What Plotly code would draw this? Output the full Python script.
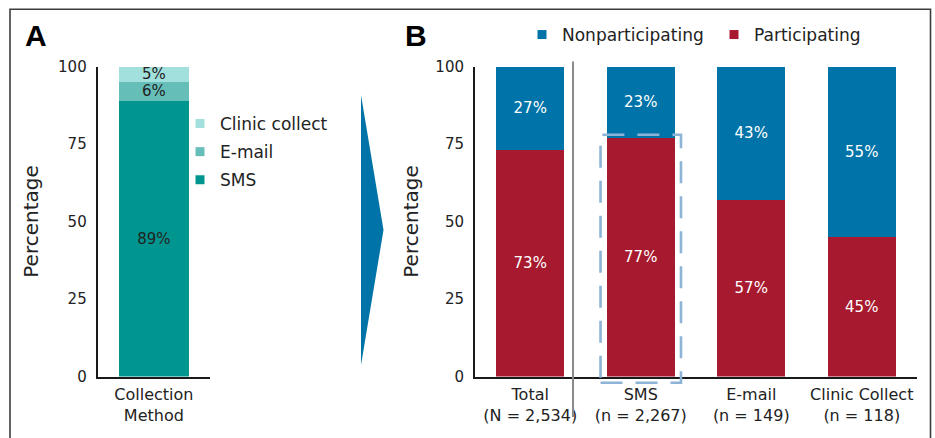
import plotly.graph_objects as go

# ---------------- data ----------------
# Panel A: collection method share
a_category = ["Collection<br>Method"]
a_methods = ["SMS", "E-mail", "Clinic collect"]
a_values = [89, 6, 5]

# Panel B: participation by collection method
b_categories = ["Total<br>(N = 2,534)", "SMS<br>(n = 2,267)",
                "E-mail<br>(n = 149)", "Clinic Collect<br>(n = 118)"]
b_participating = [73, 77, 57, 45]
b_nonparticipating = [27, 23, 43, 55]

y_ticks = [0, 25, 50, 75, 100]

# ---------------- styles ----------------
W, H = 935, 438
FONT = "DejaVu Sans"
TXT = "#222222"
a_colors = {"SMS": "#00968F", "E-mail": "#66BEB9", "Clinic collect": "#A2E0DD"}
C_PART = "#A6192E"
C_NON = "#0074A8"
HILITE = "SMS<br>(n = 2,267)"


def px_x(x):
    return x / W


def px_y(y):
    return 1 - y / H


y_dom = [px_y(376.5), px_y(66.5)]

fig = go.Figure()

# Panel A bars
for m, v in zip(a_methods, a_values):
    fig.add_trace(go.Bar(
        x=a_category, y=[v], name=m, marker=dict(color=a_colors[m], line=dict(width=0)),
        text=[f"{v}%"], textposition="inside", insidetextanchor="middle",
        textangle=0, constraintext="none",
        textfont=dict(color=TXT, size=15, family=FONT),
        width=0.62, showlegend=False, hoverinfo="skip",
        xaxis="x", yaxis="y"))

# Panel A legend (square markers)
for m in reversed(a_methods):
    fig.add_trace(go.Scatter(
        x=[None], y=[None], mode="markers", name=m, legendgroup=m,
        marker=dict(symbol="square", size=9, color=a_colors[m]),
        legend="legend", xaxis="x", yaxis="y"))

# Panel B bars
fig.add_trace(go.Bar(
    x=b_categories, y=b_participating, name="Participating",
    marker=dict(color=C_PART, line=dict(width=0)),
    text=[f"{v}%" for v in b_participating], textposition="inside",
    insidetextanchor="middle", textangle=0, constraintext="none",
    textfont=dict(color="white", size=15, family=FONT),
    width=0.615, showlegend=False, hoverinfo="skip", xaxis="x2", yaxis="y2"))
fig.add_trace(go.Bar(
    x=b_categories, y=b_nonparticipating, name="Nonparticipating",
    marker=dict(color=C_NON, line=dict(width=0)),
    text=[f"{v}%" for v in b_nonparticipating], textposition="inside",
    insidetextanchor="middle", textangle=0, constraintext="none",
    textfont=dict(color="white", size=15, family=FONT),
    width=0.615, showlegend=False, hoverinfo="skip", xaxis="x2", yaxis="y2"))

# Panel B legend
for name, col in [("Nonparticipating", C_NON), ("Participating", C_PART)]:
    fig.add_trace(go.Scatter(
        x=[None], y=[None], mode="markers", name=name,
        marker=dict(symbol="square", size=9, color=col),
        legend="legend2", xaxis="x2", yaxis="y2"))

axis_common = dict(showline=True, linecolor="#1a1a1a", linewidth=2, ticks="",
                   showgrid=False, zeroline=False, automargin=False,
                   tickfont=dict(size=16, color=TXT, family=FONT), fixedrange=True)
yaxis_common = dict(axis_common, range=[0, 100], tickvals=y_ticks,
                    tickfont=dict(size=15, color=TXT, family=FONT),
                    ticklabelstandoff=6, domain=y_dom)

# highlight box around SMS bar, computed from the category index and value
n_b = len(b_categories)
i_sms = b_categories.index(HILITE)
cx = (i_sms + 0.5) / n_b
half = 0.364 / n_b
box_top = (b_participating[i_sms] + 1) / 100.0

# separator between Total and individual methods
sep_x = (0.387 + 0.5) / n_b

shapes = [
    # outer frame
    dict(type="rect", xref="paper", yref="paper", x0=px_x(10), x1=px_x(930.5),
         y0=-0.05, y1=px_y(9.3), line=dict(color="#3c3c3c", width=1.6),
         fillcolor="rgba(0,0,0,0)", layer="below"),
    # arrow triangle
    dict(type="path", xref="paper", yref="paper",
         path=f"M {px_x(361)},{px_y(95)} L {px_x(383.5)},{px_y(230)} L {px_x(361)},{px_y(365)} Z",
         fillcolor=C_NON, line=dict(width=0)),
    # separator
    dict(type="line", xref="x2 domain", yref="y2 domain", x0=sep_x, x1=sep_x,
         y0=-0.131, y1=1.016, line=dict(color="#8a8a8a", width=2)),
    # dashed highlight
    dict(type="rect", xref="x2 domain", yref="y2 domain",
         x0=cx - half, x1=cx + half, y0=-0.02, y1=box_top,
         line=dict(color="#8DB3D6", width=2.6, dash="22px,13px"),
         fillcolor="rgba(0,0,0,0)"),
]

annotations = [
    dict(text="<b>A</b>", x=px_x(36), y=px_y(35), xref="paper", yref="paper",
         showarrow=False, xanchor="center", yanchor="middle",
         font=dict(size=30, color="#000", family="Liberation Sans")),
    dict(text="<b>B</b>", x=px_x(416), y=px_y(35), xref="paper", yref="paper",
         showarrow=False, xanchor="center", yanchor="middle",
         font=dict(size=30, color="#000", family="Liberation Sans")),
]

fig.update_layout(
    width=W, height=H,
    margin=dict(l=0, r=0, t=0, b=0),
    paper_bgcolor="white", plot_bgcolor="white",
    font=dict(family=FONT, color=TXT),
    barmode="stack",
    xaxis=dict(axis_common, domain=[px_x(97.7), px_x(210)], range=[-0.5, 0.5],
               ticklabelstandoff=2),
    yaxis=dict(yaxis_common, anchor="x",
               title=dict(text="Percentage", font=dict(size=20, color=TXT, family=FONT),
                          standoff=14)),
    xaxis2=dict(axis_common, domain=[px_x(475), px_x(917)], range=[-0.5, 3.5],
                anchor="y2", ticklabelstandoff=2),
    yaxis2=dict(yaxis_common, anchor="x2",
                title=dict(text="Percentage", font=dict(size=20, color=TXT, family=FONT),
                           standoff=11)),
    legend=dict(x=px_x(180), y=px_y(106), xanchor="left", yanchor="top",
                orientation="v", font=dict(size=17, color=TXT, family=FONT),
                bgcolor="rgba(0,0,0,0)", borderwidth=0, traceorder="grouped",
                tracegroupgap=3),
    legend2=dict(x=px_x(522), y=px_y(17), xanchor="left", yanchor="top",
                 orientation="h", font=dict(size=17, color=TXT, family=FONT),
                 bgcolor="rgba(0,0,0,0)", borderwidth=0, traceorder="normal",
                 entrywidth=147, entrywidthmode="pixels"),
    shapes=shapes,
    annotations=annotations,
    showlegend=True,
)

fig.write_html("out.html",
               config={"displayModeBar": False},
               post_script="document.body.style.margin='0px';document.body.style.overflow='hidden';")
